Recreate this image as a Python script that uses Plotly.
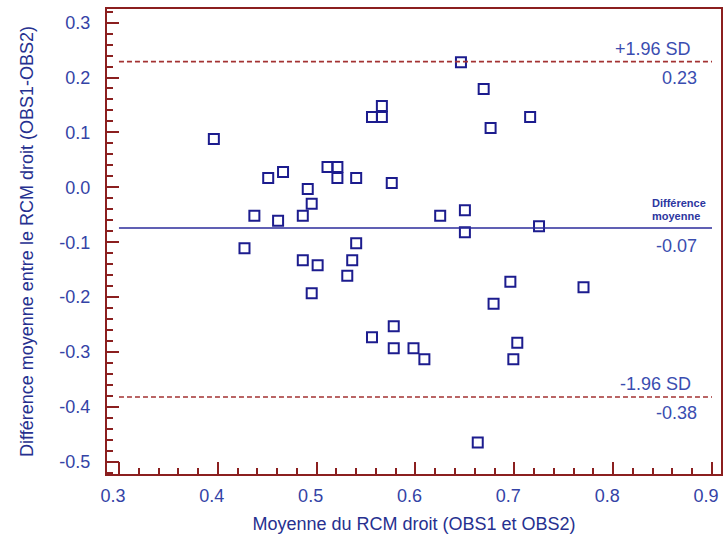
import plotly.graph_objects as go

# Bland-Altman data
mean_obs = [0.396, 0.427, 0.437, 0.451, 0.466, 0.461, 0.486, 0.491, 0.495, 0.486,
            0.501, 0.495, 0.511, 0.521, 0.521, 0.540, 0.531, 0.536, 0.540, 0.556,
            0.566, 0.566, 0.576, 0.556, 0.578, 0.578, 0.598, 0.609, 0.625, 0.646,
            0.650, 0.650, 0.669, 0.676, 0.679, 0.716, 0.725, 0.696, 0.703, 0.699,
            0.770, 0.663]
diff_obs = [0.088, -0.111, -0.052, 0.017, 0.028, -0.061, -0.052, -0.003, -0.030, -0.133,
            -0.142, -0.193, 0.037, 0.037, 0.017, 0.017, -0.161, -0.133, -0.102, 0.128,
            0.128, 0.148, 0.008, -0.273, -0.253, -0.293, -0.293, -0.313, -0.052, 0.228,
            -0.042, -0.082, 0.179, 0.108, -0.212, 0.128, -0.071, -0.172, -0.283, -0.313,
            -0.182, -0.465]

mean_diff = -0.074
upper_loa = 0.229
lower_loa = -0.382

x_ticks = [0.3, 0.4, 0.5, 0.6, 0.7, 0.8, 0.9]
x_tick_labels = ["0.3", "0.4", "0.5", "0.6", "0.7", "0.8", "0.9"]
y_ticks = [0.3, 0.2, 0.1, 0.0, -0.1, -0.2, -0.3, -0.4, -0.5]
y_tick_labels = ["0.3", "0.2", "0.1", "0.0", "-0.1", "-0.2", "-0.3", "-0.4", "-0.5"]

x_title = "Moyenne du RCM droit (OBS1 et OBS2)"
y_title = "Différence moyenne entre le RCM droit (OBS1-OBS2)"

FONT = "Arial, 'Liberation Sans', sans-serif"
FRAME = "#8b1f1f"
DASH = "#a33232"
NAVY = "#1c1c8e"
TICKTXT = "#3443a6"
TITLETXT = "#26308f"

fig = go.Figure()

fig.add_trace(go.Scatter(
    x=mean_obs, y=diff_obs, mode="markers",
    marker=dict(symbol="square-open", size=10, color=NAVY, line=dict(width=2, color=NAVY)),
    showlegend=False, hoverinfo="x+y"))

x_lo, x_hi = x_ticks[0], x_ticks[-1]
fig.add_shape(type="line", x0=x_lo, x1=x_hi, y0=upper_loa, y1=upper_loa, xref="x", yref="y",
              line=dict(color=DASH, width=1.6, dash="5px,3px"))
fig.add_shape(type="line", x0=x_lo, x1=x_hi, y0=lower_loa, y1=lower_loa, xref="x", yref="y",
              line=dict(color=DASH, width=1.6, dash="5px,3px"))
fig.add_shape(type="line", x0=x_lo, x1=x_hi, y0=mean_diff, y1=mean_diff, xref="x", yref="y",
              line=dict(color="#2b2b9b", width=1.5))

lab_font = dict(family=FONT, size=18, color="#3a4db0")
ann = []
ann.append(dict(x=0.881, y=upper_loa, text="+1.96 SD", xanchor="right", yanchor="bottom", yshift=1))
ann.append(dict(x=0.887, y=upper_loa, text=f"{upper_loa:.2f}", xanchor="right", yanchor="top", yshift=-4))
ann.append(dict(x=0.881, y=lower_loa, text="-1.96 SD", xanchor="right", yanchor="bottom", yshift=1))
ann.append(dict(x=0.887, y=lower_loa, text=f"{lower_loa:.2f}", xanchor="right", yanchor="top", yshift=-4))
ann.append(dict(x=0.887, y=mean_diff, text=f"{mean_diff:.2f}", xanchor="right", yanchor="top", yshift=-6))
for a in ann:
    a.update(xref="x", yref="y", showarrow=False, font=lab_font)
    fig.add_annotation(**a)
small = dict(family=FONT, size=11, color="#2c36a0")
fig.add_annotation(x=0.8375, y=mean_diff, xref="x", yref="y", text="<b>Différence</b>",
                   xanchor="left", yanchor="middle", yshift=25, showarrow=False, font=small)
fig.add_annotation(x=0.8375, y=mean_diff, xref="x", yref="y", text="<b>moyenne</b>",
                   xanchor="left", yanchor="middle", yshift=12, showarrow=False, font=small)

axis_common = dict(showline=True, mirror=True, linecolor=FRAME, linewidth=2,
                   ticks="inside", ticklen=12, tickwidth=2, tickcolor=FRAME,
                   showgrid=False, zeroline=False, automargin=False,
                   tickfont=dict(family=FONT, size=18, color=TICKTXT))

fig.update_xaxes(**axis_common, range=[0.2879, 0.9091], tickmode="array",
                 tickvals=x_ticks, ticktext=x_tick_labels,
                 minor=dict(tickmode="linear", tick0=0.3, dtick=0.02, ticks="inside",
                            ticklen=6, tickwidth=2, tickcolor=FRAME),
                 ticklabelstandoff=4, ticklabelshift=-6,
                 title=dict(text=x_title, font=dict(family=FONT, size=18, color=TITLETXT), standoff=13))
fig.update_yaxes(**axis_common, range=[-0.5222, 0.3248], tickmode="array",
                 tickvals=y_ticks, ticktext=y_tick_labels,
                 minor=dict(tickmode="linear", tick0=0.0, dtick=0.02, ticks="inside",
                            ticklen=6, tickwidth=2, tickcolor=FRAME),
                 ticklabelstandoff=11,
                 title=dict(text=y_title, font=dict(family=FONT, size=18, color=TITLETXT), standoff=21))

fig.update_layout(width=724, height=539, margin=dict(l=107, r=3, t=9, b=65),
                  paper_bgcolor="white", plot_bgcolor="white", showlegend=False)

fig.write_html("out.html", config={"displayModeBar": False},
               post_script="document.body.style.margin='0';document.body.style.overflow='hidden';")
